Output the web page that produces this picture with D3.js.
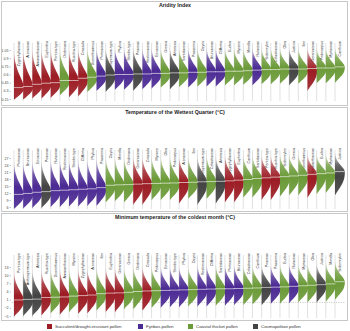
<!DOCTYPE html>
<html>
<head>
<meta charset="utf-8">
<script src="https://cdn.jsdelivr.net/npm/d3@7"></script>
<style>
html, body { margin: 0; padding: 0; background: #fff; }
svg { display: block; font-family: "Liberation Sans", Arial, sans-serif; }
</style>
</head>
<body>
<svg id="chart" width="350" height="331"></svg>
<script>
// pollen groups
const groupNames = ['succulent', 'fynbos', 'thicket', 'cosmo'];
const groupLabels = ['Succulent/drought-resistant pollen', 'Fynbos pollen', 'Coastal thicket pollen', 'Cosmopolitan pollen'];
const groupColors = ['#9c1c24', '#4b2a93', '#6b9a38', '#434343'];

const succulentTaxa = ['Zygophyllaceae', 'Aizoaceae', 'Amaranthaceae', 'Euphorbia', 'Pentzia-type', 'Ruschia-type', 'Crassula', 'Geraniaceae'];
const fynbosTaxa = ['Proteaceae', 'Phylica', 'Stoebe-type', 'Restionaceae', 'Ericaceae', 'Passerina', 'Bruniaceae', 'Cliffortia', 'Rutaceae'];
const cosmoTaxa = ['Anthospermum-type', 'Poaceae', 'Artemisia', 'Justicia'];
// everything else is coastal thicket

// ---- Aridity Index ----
const aridityTaxa = ['Zygophyllaceae', 'Aizoaceae', 'Amaranthaceae', 'Euphorbia', 'Pentzia-type', 'Dodonaea', 'Ruschia-type', 'Crassula', 'Dicerothamnus', 'Proteaceae', 'Anthospermum-type', 'Phylica', 'Stoebe-type', 'Poaceae', 'Restionaceae', 'Ericaceae', 'Grewia', 'Artemisia', 'Santalaceae', 'Passerina', 'Osyris', 'Bruniaceae', 'Cliffortia', 'Euclea', 'Myrsine', 'Morella', 'Rutaceae', 'Sideroxylon', 'Celastraceae', 'Olea', 'Justicia', 'Ilex', 'Geraniaceae', 'Podocarpus', 'Myrtaceae', 'Canthium'];
const aridityMedian = [0.36, 0.38, 0.42, 0.44, 0.45, 0.49, 0.49, 0.53, 0.55, 0.57, 0.59, 0.60, 0.60, 0.61, 0.61, 0.62, 0.62, 0.63, 0.63, 0.64, 0.64, 0.65, 0.65, 0.66, 0.66, 0.67, 0.68, 0.69, 0.69, 0.70, 0.70, 0.70, 0.71, 0.72, 0.72, 0.74];
const aridityLow = [0.14, 0.14, 0.16, 0.16, 0.17, 0.22, 0.18, 0.20, 0.28, 0.30, 0.28, 0.32, 0.32, 0.30, 0.33, 0.34, 0.36, 0.33, 0.37, 0.36, 0.38, 0.38, 0.38, 0.40, 0.40, 0.41, 0.40, 0.42, 0.42, 0.43, 0.40, 0.43, 0.30, 0.44, 0.44, 0.45];
const aridityHigh = [1.05, 1.06, 1.07, 1.07, 1.08, 1.08, 1.08, 1.09, 1.09, 1.09, 1.09, 1.1, 1.1, 1.1, 1.1, 1.1, 1.1, 1.1, 1.1, 1.1, 1.1, 1.1, 1.1, 1.1, 1.1, 1.1, 1.1, 1.1, 1.1, 1.1, 1.1, 1.1, 1.1, 1.1, 1.1, 1.1];
const aridityTicks = [1.05, 0.9, 0.75, 0.6, 0.45, 0.3, 0.15];

// ---- Temperature of the wettest quarter ----
const wetTaxa = ['Proteaceae', 'Bruniaceae', 'Ericaceae', 'Poaceae', 'Rutaceae', 'Restionaceae', 'Stoebe-type', 'Cliffortia', 'Phylica', 'Passerina', 'Osyris', 'Morella', 'Dodonaea', 'Geraniaceae', 'Crassula', 'Myrsine', 'Olea', 'Podocarpus', 'Aizoaceae', 'Ilex', 'Anthospermum-type', 'Celastraceae', 'Artemisia', 'Zygophyllaceae', 'Euphorbia', 'Canthium', 'Santalaceae', 'Pentzia-type', 'Ruschia-type', 'Sideroxylon', 'Grewia', 'Dicerothamnus', 'Amaranthaceae', 'Euclea', 'Myrtaceae', 'Justicia'];
const wetMedian = [11.4, 11.8, 12.3, 12.6, 13.0, 13.2, 13.4, 13.6, 13.8, 14.3, 15.3, 15.5, 15.6, 15.8, 16.0, 16.1, 16.2, 16.3, 16.5, 16.6, 16.8, 16.9, 17.0, 17.2, 17.5, 17.8, 18.2, 18.5, 18.8, 19.0, 19.3, 19.6, 20.0, 20.3, 20.6, 21.2];
const wetLow = [5.2, 5.4, 5.6, 5.5, 6, 6, 6.2, 6.2, 6.4, 6.5, 8, 8.5, 8, 7, 7, 9, 9, 9, 7.5, 9.5, 7, 9.5, 7.5, 8, 8, 10, 10, 9, 9, 10.5, 11, 11, 10, 11.5, 12, 11];
const wetHigh = [25.5, 25.5, 26, 26, 26.5, 26.5, 26.5, 26.5, 26.5, 27, 27.5, 27.5, 27.5, 28, 28, 28, 28, 28, 28, 28, 28, 28.5, 28, 28.5, 28.5, 28.5, 28.5, 28.5, 28.5, 29, 29, 29, 29, 29, 29, 29.5];
const wetTicks = [27, 24, 21, 18, 15, 12, 9, 6];

// ---- Minimum temperature of the coldest month ----
const coldTaxa = ['Pentzia-type', 'Anthospermum-type', 'Artemisia', 'Ruschia-type', 'Dicerothamnus', 'Amaranthaceae', 'Myrsine', 'Zygophyllaceae', 'Aizoaceae', 'Ilex', 'Euphorbia', 'Geraniaceae', 'Grewia', 'Dodonaea', 'Crassula', 'Podocarpus', 'Ericaceae', 'Stoebe-type', 'Phylica', 'Osyris', 'Restionaceae', 'Cliffortia', 'Santalaceae', 'Proteaceae', 'Bruniaceae', 'Celastraceae', 'Canthium', 'Poaceae', 'Passerina', 'Euclea', 'Rutaceae', 'Myrtaceae', 'Olea', 'Justicia', 'Morella', 'Sideroxylon'];
const coldMedian = [0.9, 1.1, 1.2, 1.8, 1.9, 2.0, 2.3, 2.5, 2.7, 3.2, 3.4, 3.5, 3.7, 4.0, 4.2, 4.3, 4.4, 4.5, 4.6, 4.7, 4.8, 4.9, 5.0, 5.0, 5.1, 5.2, 5.3, 5.5, 5.6, 5.7, 5.9, 6.1, 6.3, 6.5, 6.8, 7.6];
const coldLow = [-5.2, -5, -5, -4.8, -4, -4.5, -3.5, -4.2, -4, -3, -3.5, -3.6, -2.5, -2.5, -3, -2, -2, -1.8, -1.8, -1.5, -1.5, -1.5, -1.2, -1.2, -1, -1, -0.8, -1, -0.5, -0.5, -0.3, 0, 0, 0, 0.3, 1];
const coldHigh = [11.5, 12, 12, 12, 12.5, 12.5, 12.5, 12.5, 12.5, 13, 13, 13, 13, 13.5, 13.5, 13.5, 13.5, 13.5, 13.5, 13.5, 14, 14, 14, 14, 14, 14, 14, 14, 14, 14.5, 14.5, 14.5, 14.5, 14.5, 15, 15.5];
const coldTicks = [13, 10, 7, 4, 1, -2, -5];

// relative half-violin outline (below median, above median)
const lowerProfile = [0, 0.3, 0.62, 0.86, 0.97, 1];
const upperProfile = [1, 0.9, 0.7, 0.48, 0.3, 0.17, 0.08, 0.03, 0];

function groupOf(t) {
	if (succulentTaxa.includes(t)) return 0;
	if (fynbosTaxa.includes(t)) return 1;
	if (cosmoTaxa.includes(t)) return 3;
	return 2;
}

const svg = d3.select('#chart');
const defs = svg.append('defs');

// fade the tails of each violin
groupColors.forEach((c, i) => {
	const grad = defs.append('linearGradient')
		.attr('id', 'fade-' + i)
		.attr('x1', 0).attr('y1', 0).attr('x2', 0).attr('y2', 1);
	[[0, 0.05], [0.3, 0.8], [0.55, 1], [1, 0.9]].forEach(([o, a]) =>
		grad.append('stop').attr('offset', o).attr('stop-color', c).attr('stop-opacity', a));
});

const maxW = 10;

function drawPanel(cfg) {
	const g = svg.append('g');

	g.append('rect')
		.attr('x', 1.5).attr('y', cfg.top + 0.5)
		.attr('width', 346).attr('height', cfg.bottom - cfg.top)
		.attr('fill', 'none').attr('stroke', '#c8c8c8').attr('stroke-width', 1);

	g.append('text')
		.attr('x', 175).attr('y', cfg.titleY)
		.attr('text-anchor', 'middle')
		.attr('font-size', 5.3).attr('font-weight', 'bold').attr('fill', '#222')
		.text(cfg.title);

	const x = d3.scalePoint().domain(cfg.taxa).range([14, 335]);
	const y = d3.scaleLinear().domain(cfg.domain).range(cfg.range);

	const yAx = g.append('g')
		.attr('transform', 'translate(11,0)')
		.call(d3.axisLeft(y).tickValues(cfg.ticks).tickSize(1.5).tickPadding(1).tickFormat(cfg.fmt));
	yAx.select('.domain').remove();
	yAx.selectAll('line').attr('stroke', '#888').attr('stroke-width', 0.5);
	yAx.selectAll('text').attr('font-size', 3.6).attr('fill', '#444').attr('font-family', '"Liberation Sans", Arial, sans-serif');

	if (cfg.zeroLine) {
		g.append('line')
			.attr('x1', 12).attr('x2', 345)
			.attr('y1', y(0)).attr('y2', y(0))
			.attr('stroke', '#999').attr('stroke-width', 0.5)
			.attr('stroke-dasharray', '1.2,1.2');
	}

	const rows = cfg.taxa.map((t, i) => ({
		taxon: t, grp: groupOf(t), med: cfg.median[i], lo: cfg.low[i], hi: cfg.high[i]
	}));

	// stems from label down to the bottom of the plot
	g.selectAll('.stem').data(rows).join('line')
		.attr('class', 'stem')
		.attr('x1', d => x(d.taxon)).attr('x2', d => x(d.taxon))
		.attr('y1', cfg.labelY + 2).attr('y2', cfg.stemBottom)
		.attr('stroke', '#bdbdbd').attr('stroke-width', 0.45);

	g.selectAll('.lab').data(rows).join('text')
		.attr('class', 'lab')
		.attr('transform', d => `translate(${x(d.taxon) + 5},${cfg.labelY}) rotate(-90)`)
		.attr('dy', '0.35em')
		.attr('text-anchor', 'end')
		.attr('font-size', 3.6).attr('fill', '#333')
		.text(d => d.taxon);

	const area = d3.area()
		.curve(d3.curveBasis)
		.y(p => y(p.v))
		.x0(p => p.x0)
		.x1(p => p.x0 + p.w * maxW);

	g.selectAll('.vio').data(rows).join('path')
		.attr('class', 'vio')
		.attr('fill', d => `url(#fade-${d.grp})`)
		.attr('d', d => {
			const x0 = x(d.taxon);
			const pts = [];
			lowerProfile.forEach((w, k) => pts.push({ x0, w, v: d.lo + (d.med - d.lo) * k / (lowerProfile.length - 1) }));
			upperProfile.slice(1).forEach((w, k) => pts.push({ x0, w, v: d.med + (d.hi - d.med) * (k + 1) / (upperProfile.length - 1) }));
			return area(pts);
		});

	g.selectAll('.med').data(rows).join('line')
		.attr('class', 'med')
		.attr('x1', d => x(d.taxon) - 0.5).attr('x2', d => x(d.taxon) + maxW * 0.95)
		.attr('y1', d => y(d.med)).attr('y2', d => y(d.med))
		.attr('stroke', '#fff').attr('stroke-opacity', 0.85).attr('stroke-width', 0.7);
}

drawPanel({
	title: 'Aridity Index', top: 1, bottom: 105, titleY: 7,
	taxa: aridityTaxa, median: aridityMedian, low: aridityLow, high: aridityHigh,
	domain: [0.15, 1.05], range: [99, 50], ticks: aridityTicks, fmt: d3.format('.2~f'),
	labelY: 41, stemBottom: 101
});
drawPanel({
	title: 'Temperature of the Wettest Quarter (°C)', top: 107, bottom: 211, titleY: 113.5,
	taxa: wetTaxa, median: wetMedian, low: wetLow, high: wetHigh,
	domain: [6, 27], range: [207, 158], ticks: wetTicks, fmt: d3.format('d'),
	labelY: 148, stemBottom: 209
});
drawPanel({
	title: 'Minimum temperature of the coldest month (°C)', top: 213, bottom: 320, titleY: 219,
	taxa: coldTaxa, median: coldMedian, low: coldLow, high: coldHigh,
	domain: [-5, 13], range: [316, 267], ticks: coldTicks, fmt: d3.format('d'),
	labelY: 253, stemBottom: 318, zeroLine: true
});

// legend
const legendX = [47, 138, 188, 253];
const legend = svg.append('g').selectAll('g').data(groupLabels).join('g')
	.attr('transform', (d, i) => `translate(${legendX[i]},324)`);
legend.append('rect')
	.attr('width', 5).attr('height', 5)
	.attr('fill', (d, i) => groupColors[i]);
legend.append('text')
	.attr('x', 8).attr('y', 4.3)
	.attr('font-size', 4.4).attr('fill', '#333')
	.text(d => d);
</script>
</body>
</html>
